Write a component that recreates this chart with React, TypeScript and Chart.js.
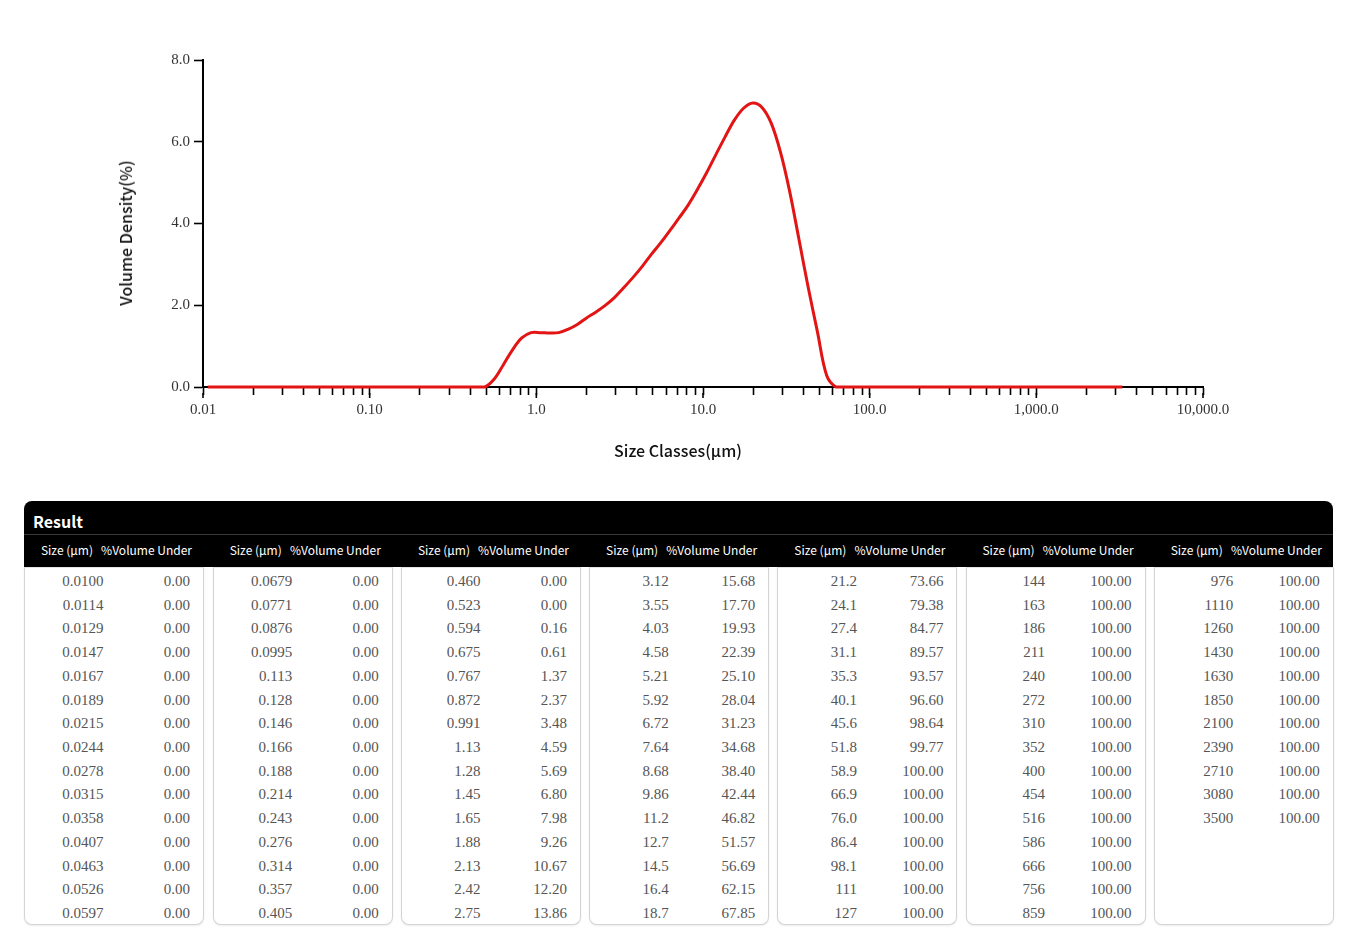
import React, { useEffect, useRef } from "react";
import { Chart, registerables } from "chart.js";

Chart.register(...registerables);

// Size class edges (µm) as printed in the result table
const SIZE_LABELS: string[] = [
  "0.0100", "0.0114", "0.0129", "0.0147", "0.0167", "0.0189", "0.0215", "0.0244", "0.0278", "0.0315", "0.0358", "0.0407", "0.0463", "0.0526", "0.0597",
  "0.0679", "0.0771", "0.0876", "0.0995", "0.113", "0.128", "0.146", "0.166", "0.188", "0.214", "0.243", "0.276", "0.314", "0.357", "0.405",
  "0.460", "0.523", "0.594", "0.675", "0.767", "0.872", "0.991", "1.13", "1.28", "1.45", "1.65", "1.88", "2.13", "2.42", "2.75",
  "3.12", "3.55", "4.03", "4.58", "5.21", "5.92", "6.72", "7.64", "8.68", "9.86", "11.2", "12.7", "14.5", "16.4", "18.7",
  "21.2", "24.1", "27.4", "31.1", "35.3", "40.1", "45.6", "51.8", "58.9", "66.9", "76.0", "86.4", "98.1", "111", "127",
  "144", "163", "186", "211", "240", "272", "310", "352", "400", "454", "516", "586", "666", "756", "859",
  "976", "1110", "1260", "1430", "1630", "1850", "2100", "2390", "2710", "3080", "3500",
];

// %Volume Under for each size edge
const VOLUME_UNDER: number[] = [
  0, 0, 0, 0, 0, 0, 0, 0, 0, 0, 0, 0, 0, 0, 0,
  0, 0, 0, 0, 0, 0, 0, 0, 0, 0, 0, 0, 0, 0, 0,
  0, 0, 0.16, 0.61, 1.37, 2.37, 3.48, 4.59, 5.69, 6.8, 7.98, 9.26, 10.67, 12.2, 13.86,
  15.68, 17.7, 19.93, 22.39, 25.1, 28.04, 31.23, 34.68, 38.4, 42.44, 46.82, 51.57, 56.69, 62.15, 67.85,
  73.66, 79.38, 84.77, 89.57, 93.57, 96.6, 98.64, 99.77, 100, 100, 100, 100, 100, 100, 100,
  100, 100, 100, 100, 100, 100, 100, 100, 100, 100, 100, 100, 100, 100, 100,
  100, 100, 100, 100, 100, 100, 100, 100, 100, 100, 100,
];

// Volume density (%) per size class
const DENSITY: number[] = [
  0, 0, 0, 0, 0, 0, 0, 0, 0, 0,
  0, 0, 0, 0, 0, 0, 0, 0, 0, 0,
  0, 0, 0, 0, 0, 0, 0, 0, 0, 0,
  0, 0.19, 0.54, 0.91, 1.2, 1.33, 1.33, 1.32, 1.33, 1.41,
  1.53, 1.69, 1.83, 1.99, 2.18, 2.42, 2.67, 2.94, 3.24, 3.52,
  3.82, 4.13, 4.45, 4.83, 5.24, 5.68, 6.12, 6.53, 6.82, 6.95,
  6.84, 6.45, 5.74, 4.78, 3.62, 2.44, 1.35, 0.28, 0, 0,
  0, 0, 0, 0, 0, 0, 0, 0, 0, 0,
  0, 0, 0, 0, 0, 0, 0, 0, 0, 0,
  0, 0, 0, 0, 0, 0, 0, 0, 0, 0,
];

const X_TICK_DECADES: number[] = [0.01, 0.1, 1, 10, 100, 1000, 10000];
const X_TICK_LABELS: string[] = ["0.01", "0.10", "1.0", "10.0", "100.0", "1,000.0", "10,000.0"];
const Y_TICK_LABELS: string[] = ["0.0", "2.0", "4.0", "6.0", "8.0"];
const X_TITLE = "Size Classes(µm)";
const Y_TITLE = "Volume Density(%)";
const TABLE_TITLE = "Result";
const COL_HEAD_SIZE = "Size (µm)";
const COL_HEAD_UNDER = "%Volume Under";
const ROWS_PER_COLUMN = 15;

const SERIF = "'Liberation Serif', 'DejaVu Serif', serif";
const SANS = "'Noto Sans CJK SC', 'Noto Sans', sans-serif";

const majorTickPlugin = {
  id: "majorTicks",
  afterDraw(chart: any) {
    const xs = chart.scales.x;
    const ctx = chart.ctx;
    ctx.save();
    ctx.strokeStyle = "#000";
    ctx.lineWidth = 1.6;
    X_TICK_DECADES.forEach((v) => {
      const px = xs.getPixelForValue(v);
      ctx.beginPath();
      ctx.moveTo(px, xs.top + 6);
      ctx.lineTo(px, xs.top + 11);
      ctx.stroke();
    });
    ctx.restore();
  },
};

function DensityChart() {
  const ref = useRef<HTMLCanvasElement | null>(null);
  useEffect(() => {
    if (!ref.current) return;
    const points = DENSITY.map((y, i) => ({
      x: Math.sqrt(Number(SIZE_LABELS[i]) * Number(SIZE_LABELS[i + 1])),
      y,
    }));
    const chart = new Chart(ref.current, {
      type: "line",
      data: {
        datasets: [
          {
            data: points,
            borderColor: "#e31414",
            borderWidth: 3,
            pointRadius: 0,
            fill: false,
            tension: 0.35,
            clip: false as any,
          },
        ],
      },
      options: {
        responsive: false,
        animation: false,
        layout: { padding: { left: 0, right: 153, top: 60, bottom: 0 } },
        plugins: { legend: { display: false }, tooltip: { enabled: false } },
        scales: {
          x: {
            type: "logarithmic",
            min: 0.01,
            max: 10000,
            afterFit: (s: any) => {
              s.height = 83;
            },
            afterBuildTicks: (s: any) => {
              const ticks: any[] = [];
              X_TICK_DECADES.forEach((d, i) => {
                if (i === X_TICK_DECADES.length - 1) {
                  ticks.push({ value: d });
                } else {
                  for (let m = 1; m <= 9; m++) ticks.push({ value: d * m });
                }
              });
              s.ticks = ticks;
            },
            ticks: {
              autoSkip: false,
              maxRotation: 0,
              minRotation: 0,
              padding: 6,
              color: "#333",
              font: { family: SERIF, size: 15 },
              callback: (v: any) => {
                const idx = X_TICK_DECADES.findIndex((d) => Math.abs(d - Number(v)) / d < 1e-6);
                return idx >= 0 ? X_TICK_LABELS[idx] : "";
              },
            },
            grid: {
              drawOnChartArea: false,
              drawTicks: true,
              tickLength: 8,
              tickColor: "#000",
              tickWidth: 1.6,
            },
            border: { display: true, color: "#000", width: 2 },
          },
          y: {
            min: 0,
            max: 8,
            afterFit: (s: any) => {
              s.width = 203;
            },
            ticks: {
              stepSize: 2,
              padding: 4,
              color: "#333",
              font: { family: SERIF, size: 15 },
              callback: (v: any) => Y_TICK_LABELS[Math.round(Number(v) / 2)] ?? "",
            },
            grid: {
              drawOnChartArea: false,
              drawTicks: true,
              tickLength: 9,
              tickColor: "#000",
              tickWidth: 1.6,
            },
            border: { display: true, color: "#000", width: 2 },
          },
        },
      },
      plugins: [majorTickPlugin],
    } as any);
    return () => chart.destroy();
  }, []);
  return <canvas ref={ref} width={1356} height={470} style={{ position: "absolute", left: 0, top: 0 }} />;
}

const COL_LEFTS = [24, 212.8, 401, 589.2, 777.4, 965.6, 1153.8];
const COL_WIDTH = 180;
const ROW_H = 23.72;

function ResultTable() {
  const columns: number[][] = [];
  for (let c = 0; c < COL_LEFTS.length; c++) {
    const idx: number[] = [];
    for (let r = 0; r < ROWS_PER_COLUMN; r++) {
      const k = c * ROWS_PER_COLUMN + r;
      if (k < SIZE_LABELS.length) idx.push(k);
    }
    columns.push(idx);
  }
  return (
    <>
      <div
        style={{
          position: "absolute",
          left: 24,
          top: 501,
          width: 1309,
          height: 66,
          background: "#000",
          borderRadius: "8px 8px 0 0",
        }}
      >
        <div
          style={{
            position: "absolute",
            left: 9,
            top: 10,
            lineHeight: "20px",
            fontFamily: SANS,
            fontWeight: 700,
            fontSize: 16,
            color: "#fff",
          }}
        >
          {TABLE_TITLE}
        </div>
        <div style={{ position: "absolute", left: 0, right: 0, top: 33, height: 1, background: "#3a3a3a" }} />
      </div>
      {COL_LEFTS.map((left, c) => (
        <React.Fragment key={c}>
          <div
            style={{
              position: "absolute",
              left,
              top: 541,
              width: COL_WIDTH,
              height: 18,
              fontFamily: SANS,
              fontSize: 12,
              lineHeight: "18px",
              color: "#fff",
            }}
          >
            <span style={{ position: "absolute", right: COL_WIDTH - 69, whiteSpace: "nowrap" }}>{COL_HEAD_SIZE}</span>
            <span style={{ position: "absolute", right: 12, whiteSpace: "nowrap" }}>{COL_HEAD_UNDER}</span>
          </div>
          <div
            style={{
              position: "absolute",
              left,
              top: 567,
              width: COL_WIDTH,
              height: 358,
              boxSizing: "border-box",
              border: "1.5px solid #d4d4d4",
              borderTop: "1px solid #e4e4e4",
              borderRadius: "0 0 8px 8px",
              background: "#fff",
              boxShadow: "0 1px 2px rgba(0,0,0,0.08)",
            }}
          >
            {columns[c].map((k, r) => (
              <div
                key={k}
                style={{
                  position: "absolute",
                  left: 0,
                  right: 0,
                  top: 2 + r * ROW_H,
                  height: ROW_H,
                  lineHeight: `${ROW_H}px`,
                  fontFamily: SERIF,
                  fontSize: 15,
                  color: "#555",
                }}
              >
                <span style={{ position: "absolute", right: COL_WIDTH - 79 - 1.5 }}>{SIZE_LABELS[k]}</span>
                <span style={{ position: "absolute", right: 13 }}>{VOLUME_UNDER[k].toFixed(2)}</span>
              </div>
            ))}
          </div>
        </React.Fragment>
      ))}
    </>
  );
}

export default function App() {
  return (
    <div
      style={{
        position: "absolute",
        left: 0,
        top: 0,
        width: 1356,
        height: 950,
        background: "#fff",
        overflow: "hidden",
      }}
    >
      <DensityChart />
      <div
        style={{
          position: "absolute",
          left: 125,
          top: 233,
          transform: "translate(-50%, -50%) rotate(-90deg)",
          whiteSpace: "nowrap",
          fontFamily: SANS,
          fontWeight: 500,
          fontSize: 16,
          color: "#111",
        }}
      >
        {Y_TITLE}
      </div>
      <div
        style={{
          position: "absolute",
          left: 678,
          top: 450,
          transform: "translate(-50%, -50%)",
          whiteSpace: "nowrap",
          fontFamily: SANS,
          fontWeight: 500,
          fontSize: 16,
          color: "#111",
        }}
      >
        {X_TITLE}
      </div>
      <ResultTable />
    </div>
  );
}
